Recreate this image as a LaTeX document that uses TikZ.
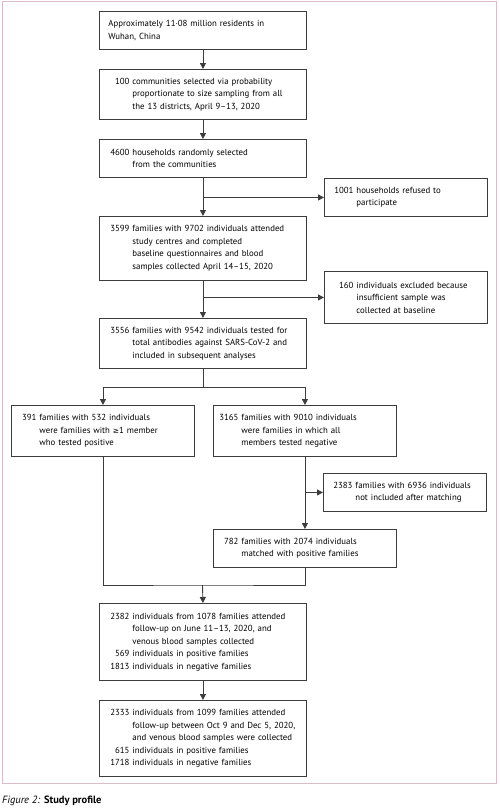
\documentclass[tikz,border=0pt]{standalone}
\usepackage{fontspec}
\setmainfont{PT Sans}
\newfontfamily\symfont[Scale=0.85]{DejaVu Sans}
\usetikzlibrary{arrows.meta}
\definecolor{framepink}{RGB}{218,188,198}
\definecolor{boxline}{RGB}{60,60,60}
\newcommand{\nr}[2][21pt]{\makebox[#1][r]{#2}\hspace{3pt}}
\tikzset{
  box/.style={draw=boxline, line width=0.9pt, anchor=north west, align=left,
    inner ysep=0pt, font=\fontsize{8.8}{12.5}\selectfont},
  mainbox/.style={box, inner xsep=9pt, text width=189pt},
  sidebox/.style={box, inner xsep=8pt, text width=147pt},
  halfbox/.style={box, inner xsep=4pt, text width=175pt},
  arr/.style={draw=boxline, line width=0.9pt, -{Triangle[length=6pt,width=6pt]}},
  link/.style={draw=boxline, line width=0.9pt}
}
\begin{document}
\begin{tikzpicture}[x=1pt, y=-1pt]
\useasboundingbox (0,0) rectangle (500,809);
\draw[framepink, line width=1pt] (2,1) rectangle (496,783);

\node[mainbox, minimum height=38pt] (b1) at (99,11) {Approximately 11·08 million residents in\\Wuhan, China};
\node[mainbox, minimum height=50pt] (b2) at (99,69) {\nr{100}communities selected via probability\\\nr{}proportionate to size sampling from all\\\nr{}the 13 districts, April 9–13, 2020};
\node[mainbox, minimum height=38pt] (b3) at (99,139) {\nr{4600}households randomly selected\\\nr{}from the communities};
\node[sidebox, minimum height=38pt] (s1) at (324,178) {\nr{1001}households refused to\\\nr{}participate};
\node[mainbox, minimum height=64pt] (b4) at (99,216) {\nr{3599}families with 9702 individuals attended\\\nr{}study centres and completed\\\nr{}baseline questionnaires and blood\\\nr{}samples collected April 14–15, 2020};
\node[sidebox, minimum height=52pt] (s2) at (324,271) {\nr{160}individuals excluded because\\\nr{}insufficient sample was\\\nr{}collected at baseline};
\node[mainbox, minimum height=50pt] (b5) at (99,318) {\nr{3556}families with 9542 individuals tested for\\\nr{}total antibodies against SARS-CoV-2 and\\\nr{}included in subsequent analyses};
\node[halfbox, minimum height=51pt] (b6) at (11,405) {\nr{391}families with 532 individuals\\\nr{}were families with {\symfont ≥}1 member\\\nr{}who tested positive};
\node[halfbox, minimum height=51pt] (b7) at (213,405) {\nr{3165}families with 9010 individuals\\\nr{}were families in which all\\\nr{}members tested negative};
\node[sidebox, minimum height=38pt] (s3) at (323,473) {\nr{2383}families with 6936 individuals\\\nr{}not included after matching};
\node[halfbox, minimum height=38pt] (b8) at (213,529) {\nr{782}families with 2074 individuals\\\nr{}matched with positive families};
\node[mainbox, minimum height=77pt] (b9) at (99,603) {\nr{2382}individuals from 1078 families attended\\\nr{}follow-up on June 11–13, 2020, and\\\nr{}venous blood samples collected\\\nr{569}individuals in positive families\\\nr{1813}individuals in negative families};
\node[mainbox, minimum height=76pt] (b10) at (99,700) {\nr{2333}individuals from 1099 families attended\\\nr{}follow-up between Oct 9 and Dec 5, 2020,\\\nr{}and venous blood samples were collected\\\nr{615}individuals in positive families\\\nr{1718}individuals in negative families};

\draw[arr] (b1.south) -- (b2.north);
\draw[arr] (b2.south) -- (b3.north);
\draw[arr] (b3.south) -- (b4.north);
\draw[arr] (b3.south |- s1.west) -- (s1.west);
\draw[arr] (b4.south) -- (b5.north);
\draw[arr] (b4.south |- s2.west) -- (s2.west);
\draw[link] (b5.south) -- ++(0,19) coordinate (split);
\draw[arr] (split) -| (b6.north);
\draw[arr] (split) -| (b7.north);
\draw[arr] (b7.south) -- (b8.north);
\draw[arr] (b7.south |- s3.west) -- (s3.west);
\coordinate (merge) at (202.5,585);
\draw[link] (b6.south) |- (merge) -| (b8.south);
\draw[arr] (merge) -- (b9.north);
\draw[arr] (b9.south) -- (b10.north);

\node[anchor=base west, inner sep=0pt, font=\fontsize{10.5}{12}\selectfont] (cap) at (2,803) {\textit{Figure 2:} \textbf{Study profile}};
\end{tikzpicture}
\end{document}
